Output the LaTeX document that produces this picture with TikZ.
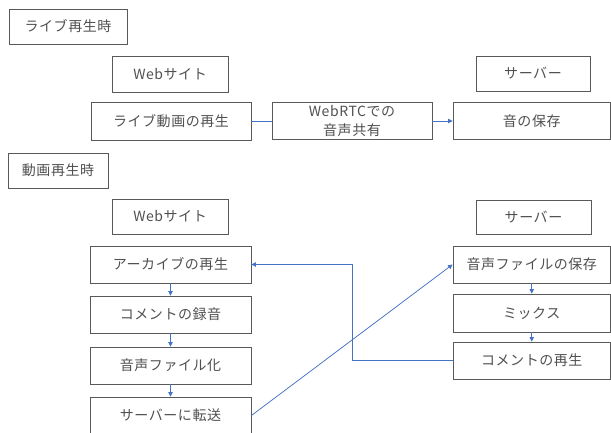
\documentclass[tikz,border=0pt]{standalone}
\usepackage{fontspec}
\newfontfamily\jpfont[LetterSpace=4]{Noto Sans CJK JP}
\usetikzlibrary{arrows.meta}
\definecolor{boxline}{HTML}{595959}
\definecolor{boxtext}{HTML}{505050}
\definecolor{conn}{HTML}{4472C4}
\tikzset{
  box/.style={draw=boxline, line width=0.9pt, rectangle, inner sep=0pt, text=boxtext,
    font=\jpfont\fontsize{14}{19}\selectfont, align=center, fill=white},
  link/.style={draw=conn, line width=0.75pt},
  linkarrow/.style={link, -{Triangle[length=4.5pt,width=4.5pt]}},
}
\begin{document}
\begin{tikzpicture}[x=1pt,y=-1pt]
\useasboundingbox (0,0) rectangle (611,432);
\clip (0,0) rectangle (611,432);
\fill[white] (0,0) rectangle (611,432);
% live section
\node[box, minimum width=118pt, minimum height=35pt] (t1) at (68,26.5) {ライブ再生時};
\node[box, minimum width=116pt, minimum height=36pt] (w1) at (170,74) {Webサイト};
\node[box, minimum width=114pt, minimum height=35pt] (s1) at (533,73.5) {サーバー};
\node[box, minimum width=160pt, minimum height=38pt] (live) at (171,121) {ライブ動画の再生};
\node[box, minimum width=160pt, minimum height=37pt] (rtc) at (352,121) {WebRTCでの\\音声共有};
\node[box, minimum width=157.5pt, minimum height=37pt] (save) at (531.75,121) {音の保存};
% archive section
\node[box, minimum width=100pt, minimum height=35pt] (t2) at (58,170.5) {動画再生時};
\node[box, minimum width=116pt, minimum height=35pt] (w2) at (170,216.5) {Webサイト};
\node[box, minimum width=115pt, minimum height=34pt] (s2) at (533.5,217) {サーバー};
\node[box, minimum width=161pt, minimum height=37pt] (arc) at (170.5,264.5) {アーカイブの再生};
\node[box, minimum width=161pt, minimum height=37pt] (rec) at (170.5,314.5) {コメントの録音};
\node[box, minimum width=161pt, minimum height=37pt] (file) at (170.5,365.5) {音声ファイル化};
\node[box, minimum width=161pt, minimum height=37pt] (send) at (170.5,415.5) {サーバーに転送};
\node[box, minimum width=157.5pt, minimum height=37pt] (fsave) at (531.75,264.5) {音声ファイルの保存};
\node[box, minimum width=157.5pt, minimum height=38pt] (mix) at (531.75,313) {ミックス};
\node[box, minimum width=157.5pt, minimum height=37pt] (play) at (531.75,360.5) {コメントの再生};
\coordinate (elb) at (352,360.5);
% connectors
\draw[link] (live.east) -- (rtc.west);
\draw[linkarrow] (rtc.east) -- (save.west);
\draw[linkarrow] (arc.south) -- (rec.north);
\draw[linkarrow] (rec.south) -- (file.north);
\draw[linkarrow] (file.south) -- (send.north);
\draw[linkarrow] (fsave.south) -- (mix.north);
\draw[linkarrow] (mix.south) -- (play.north);
\draw[linkarrow] (play.west) -- (elb) |- (arc.east);
\draw[linkarrow] (send.east) -- (fsave.west);
\end{tikzpicture}
\end{document}
